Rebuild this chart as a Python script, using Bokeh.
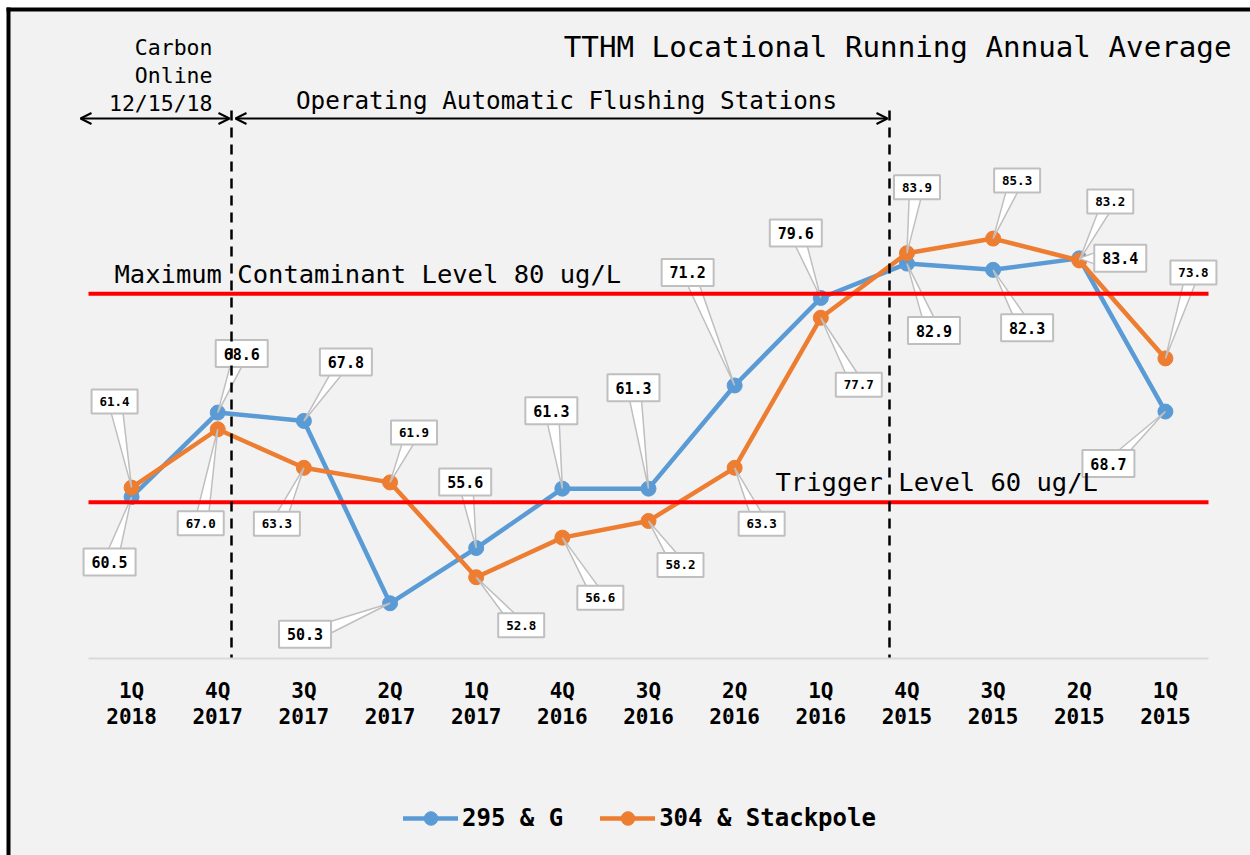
from bokeh.plotting import figure
from bokeh.models import (Range1d, FixedTicker, Label, Arrow, OpenHead, Grid,
                          Legend, LegendItem, BoxAnnotation)
from bokeh.embed import file_html
from bokeh.resources import INLINE
from bokeh.core.properties import value

# ---------------- data ----------------
quarters = ["1Q\n2018", "4Q\n2017", "3Q\n2017", "2Q\n2017", "1Q\n2017", "4Q\n2016",
            "3Q\n2016", "2Q\n2016", "1Q\n2016", "4Q\n2015", "3Q\n2015", "2Q\n2015", "1Q\n2015"]
g295 = [60.5, 68.6, 67.8, 50.3, 55.6, 61.3, 61.3, 71.2, 79.6, 82.9, 82.3, 83.4, 68.7]
stackpole = [61.4, 67.0, 63.3, 61.9, 52.8, 56.6, 58.2, 63.3, 77.7, 83.9, 85.3, 83.2, 73.8]
mcl = 80
trigger = 60
y_ticks = [50, 55, 60, 65, 70, 75, 80, 85, 90, 95]
y_min, y_max = 45, 95

# label box offsets from their points (pixels, right / down)
blue_off = [(-22, 65), (24, -59), (42, -59), (-85, 31), (-11, -66), (-11, -78), (-15, -101),
            (-47, -113), (-25, -65), (27, 67), (34, 58), (41, 0), (-57, 52)]
orange_off = [(-17, -86), (-17, 94), (-27, 56), (24, -50), (45, 48), (38, 60), (32, 44),
              (27, 56), (38, 67), (10, -66), (24, -58), (31, -59), (28, -86)]

# ---------------- layout ----------------
FONT = "DejaVu Sans Mono"
BG = "#f2f2f2"
BLUE = "#5b9bd5"
ORANGE = "#ed7d31"
W, H = 1250, 855
PL, PR, PB = 88, 1208, 658          # plot area left / right / bottom (page px)
N = len(quarters)
PXX = (PR - PL) / N
PXY = (PB - 137) / (y_max - y_min)

def xd(px):
    return (px - PL) / PXX

def yd(py):
    return y_min + (PB - py) / PXY

X0, X1 = xd(0), xd(W)
Y0, Y1 = yd(H), yd(0)

p = figure(width=W, height=H, output_backend="svg", toolbar_location=None,
           x_range=Range1d(X0, X1), y_range=Range1d(Y0, Y1),
           min_border=0, min_border_left=0, min_border_right=0,
           min_border_top=0, min_border_bottom=0,
           background_fill_color="white", border_fill_color="white",
           outline_line_color=None)

xs = [i + 0.5 for i in range(N)]

# chart box (grey) with black top/left border
p.add_layout(BoxAnnotation(left=xd(8), right=xd(W + 50), top=yd(9), bottom=yd(H + 50),
                           fill_color=BG, fill_alpha=1, line_color=None, level="underlay"))
p.segment(x0=[xd(8), xd(6)], y0=[yd(7), yd(9)], x1=[xd(8), xd(W + 20)], y1=[yd(H + 20), yd(9)],
          line_color="black", line_width=4)

# axes / grid
p.yaxis.visible = False
p.xgrid.visible = False
if "cross_bounds" in Grid.properties():
    p.ygrid.ticker = FixedTicker(ticks=y_ticks)
    p.ygrid.cross_bounds = (0, N)
    p.ygrid.grid_line_color = "#858585"
    p.ygrid.grid_line_width = 1.2
else:
    p.ygrid.visible = False
    p.segment(x0=[0] * len(y_ticks), y0=y_ticks, x1=[N] * len(y_ticks), y1=y_ticks,
              line_color="#858585", line_width=1.2)

p.xaxis.fixed_location = y_min
p.xaxis.bounds = (0, N)
p.xaxis.ticker = FixedTicker(ticks=xs)
p.xaxis.major_label_overrides = {x: q for x, q in zip(xs, quarters)}
p.xaxis.axis_line_color = "#d9d9d9"
p.xaxis.axis_line_width = 2
p.xaxis.major_tick_line_color = None
p.xaxis.minor_tick_line_color = None
p.xaxis.major_tick_out = 0
p.xaxis.major_tick_in = 0
p.xaxis.major_label_standoff = 20
p.xaxis.major_label_text_font = FONT
p.xaxis.major_label_text_font_style = "bold"
p.xaxis.major_label_text_font_size = "21px"
p.xaxis.major_label_text_line_height = 1.1
p.xaxis.major_label_text_color = "black"

# series
l1 = p.line(xs, g295, line_color=BLUE, line_width=4.5, line_cap="round")
c1 = p.scatter(xs, g295, marker="circle", size=15, fill_color=BLUE, line_color=BLUE)
l2 = p.line(xs, stackpole, line_color=ORANGE, line_width=4.5, line_cap="round")
c2 = p.scatter(xs, stackpole, marker="circle", size=15, fill_color=ORANGE, line_color=ORANGE)

# data label callouts
def to_px(x, y):
    return PL + x * PXX, PB - (y - y_min) * PXY

def build(vals, offs, hw, hh):
    cxs, cys, pxs, pys, txt = [], [], [], [], []
    for x, v, (ox, oy) in zip(xs, vals, offs):
        P = to_px(x, v)
        C = (P[0] + ox, P[1] + oy)
        dx, dy = P[0] - C[0], P[1] - C[1]
        b = 6
        if abs(dx) * hh > abs(dy) * hw:
            sx = 1 if dx > 0 else -1
            ex = C[0] + sx * (hw - 1.5)
            iy = C[1] + dy * (hw / abs(dx))
            iy = min(max(iy, C[1] - hh + b + 1), C[1] + hh - b - 1)
            pts = [(ex, iy - b), (ex, iy + b), P]
        else:
            sy = 1 if dy > 0 else -1
            ey = C[1] + sy * (hh - 1.5)
            ix = C[0] + dx * (hh / abs(dy))
            ix = min(max(ix, C[0] - hw + b + 1), C[0] + hw - b - 1)
            pts = [(ix - b, ey), (ix + b, ey), P]
        pxs.append([xd(q[0]) for q in pts])
        pys.append([yd(q[1]) for q in pts])
        cxs.append(xd(C[0]))
        cys.append(yd(C[1]))
        txt.append(f"{v:.1f}")
    return cxs, cys, pxs, pys, txt

for vals, offs, hw, hh, fs in [(g295, blue_off, 26, 13.5, "15px"),
                               (stackpole, orange_off, 23, 12, "12.5px")]:
    cxs, cys, pxs, pys, txt = build(vals, offs, hw, hh)
    p.patches(pxs, pys, fill_color="white", line_color="#bfbfbf", line_width=1.5)
    p.rect(cxs, cys, width=2 * hw, height=2 * hh, width_units="screen", height_units="screen",
           fill_color="white", line_color="#bfbfbf", line_width=2)
    p.text(cxs, cys, text=txt, text_align="center", text_baseline="middle",
           text_font=value(FONT), text_font_style="bold", text_font_size=fs, text_color="black")

# reference lines
p.segment(x0=[0, 0], y0=[mcl, trigger], x1=[N, N], y1=[mcl, trigger],
          line_color="#ff0000", line_width=4)

# dashed vertical markers
p.segment(x0=[xd(231), xd(889)], y0=[yd(110), yd(110)], x1=[xd(231), xd(889)], y1=[y_min, y_min],
          line_color="black", line_width=2.5, line_dash="10 7")

# arrows
for a, b in [(80, 229), (235, 887)]:
    p.add_layout(Arrow(x_start=xd(a), y_start=yd(118), x_end=xd(b), y_end=yd(118),
                       start=OpenHead(size=11, line_width=2, line_color="black"),
                       end=OpenHead(size=11, line_width=2, line_color="black"),
                       line_width=2, line_color="black"))

# texts
def lab(x, y, t, size, align="left"):
    p.add_layout(Label(x=x, y=y, text=t, text_font=FONT, text_font_size=size,
                       text_align=align, text_baseline="middle", text_color="black"))

lab(xd(1231), yd(46), "TTHM Locational Running Annual Average", "29.2px", "right")
lab(xd(212), yd(47), "Carbon", "21.5px", "right")
lab(xd(212), yd(75), "Online", "21.5px", "right")
lab(xd(212), yd(103), "12/15/18", "21.5px", "right")
lab(xd(566), yd(100), "Operating Automatic Flushing Stations", "24.3px", "center")
lab(xd(114), yd(273), "Maximum Contaminant Level 80 ug/L", "25.5px")
lab(xd(775), yd(481), "Trigger Level 60 ug/L", "25.5px")

# legend
legend = Legend(items=[LegendItem(label="295 & G", renderers=[l1, c1]),
                       LegendItem(label="304 & Stackpole", renderers=[l2, c2])],
                orientation="horizontal", location=(403, 20),
                label_text_font=FONT, label_text_font_size="24px", label_text_font_style="bold",
                label_text_color="black",
                glyph_width=55, glyph_height=34, label_standoff=4, spacing=37,
                padding=0, margin=0, border_line_color=None, background_fill_alpha=0)
p.add_layout(legend)

open("out.html", "w").write(file_html(p, INLINE))
